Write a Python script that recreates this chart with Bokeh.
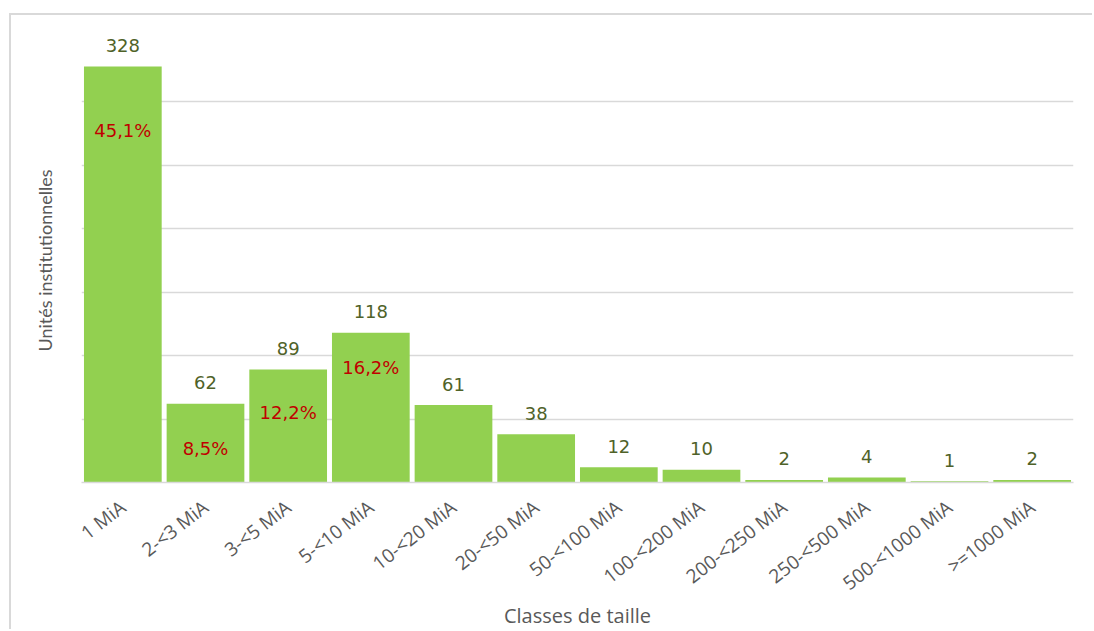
import math
from bokeh.plotting import figure
from bokeh.models import (ColumnDataSource, LabelSet, SingleIntervalTicker, FixedTicker,
                          FactorRange)
from bokeh.core.properties import value
from bokeh.embed import file_html
from bokeh.resources import INLINE

categories = ["1 MiA", "2-<3 MiA", "3-<5 MiA", "5-<10 MiA", "10-<20 MiA", "20-<50 MiA",
              "50-<100 MiA", "100-<200 MiA", "200-<250 MiA", "250-<500 MiA",
              "500-<1000 MiA", ">=1000 MiA"]
values = [328, 62, 89, 118, 61, 38, 12, 10, 2, 4, 1, 2]
pct_categories = ["1 MiA", "2-<3 MiA", "3-<5 MiA", "5-<10 MiA"]
pct_values = [328, 62, 89, 118]
pct_labels = ["45,1%", "8,5%", "12,2%", "16,2%"]
pct_offsets = [-64, -45, -43, -35]

src = ColumnDataSource(dict(cat=categories, val=values, txt=[str(v) for v in values]))
psrc = ColumnDataSource(dict(cat=pct_categories, val=pct_values, txt=pct_labels,
                             off=pct_offsets))

p = figure(x_range=FactorRange(*categories, range_padding=0), y_range=(0, 350),
           width=1083, height=616, output_backend="svg", toolbar_location=None,
           min_border_left=70, min_border_right=21, min_border_top=23, min_border_bottom=149)
p.margin = (13, 0, 0, 9)
p.styles = {"border-top": "2px solid #d9d9d9", "border-left": "2px solid #d9d9d9"}
p.outline_line_color = None
p.background_fill_color = "white"
p.border_fill_color = "white"

p.vbar(x="cat", top="val", width=0.94, source=src, fill_color="#92d050", line_color=None)

p.add_layout(LabelSet(x="cat", y="val", text="txt", source=src, y_offset=21,
                      text_align="center", text_baseline="middle",
                      text_font=value("DejaVu Sans"), text_font_size="18px",
                      text_color="#4f6228"))
p.add_layout(LabelSet(x="cat", y="val", text="txt", source=psrc, y_offset="off",
                      text_align="center", text_baseline="middle",
                      text_font=value("DejaVu Sans"), text_font_size="18px",
                      text_color="#c00000"))

p.ygrid.ticker = SingleIntervalTicker(interval=50)
p.yaxis.ticker = FixedTicker(ticks=[])
p.ygrid.grid_line_color = "#d9d9d9"
p.ygrid.grid_line_width = 1.5
p.xgrid.grid_line_color = None

p.yaxis.axis_line_color = None
p.yaxis.major_tick_line_color = None
p.yaxis.minor_tick_line_color = None
p.yaxis.axis_label = "Unités institutionnelles"
p.yaxis.axis_label_text_font = "Lato"
p.yaxis.axis_label_text_font_style = "normal"
p.yaxis.axis_label_text_font_size = "18px"
p.yaxis.axis_label_text_color = "#595959"
p.yaxis.axis_label_standoff = 26

p.xaxis.axis_line_color = "#d9d9d9"
p.xaxis.axis_line_width = 1.5
p.xaxis.major_tick_line_color = None
p.xaxis.minor_tick_line_color = None
p.xaxis.major_label_orientation = 0.66
p.xaxis.major_label_text_font = "Open Sans"
p.xaxis.major_label_text_font_size = "19px"
p.xaxis.major_label_text_color = "#595959"
p.xaxis.major_label_standoff = 16
p.xaxis.axis_label = "Classes de taille"
p.xaxis.axis_label_text_font = "Open Sans"
p.xaxis.axis_label_text_font_style = "normal"
p.xaxis.axis_label_text_font_size = "20px"
p.xaxis.axis_label_text_color = "#595959"
p.xaxis.axis_label_standoff = -7

open("out.html", "w").write(file_html(p, INLINE))
